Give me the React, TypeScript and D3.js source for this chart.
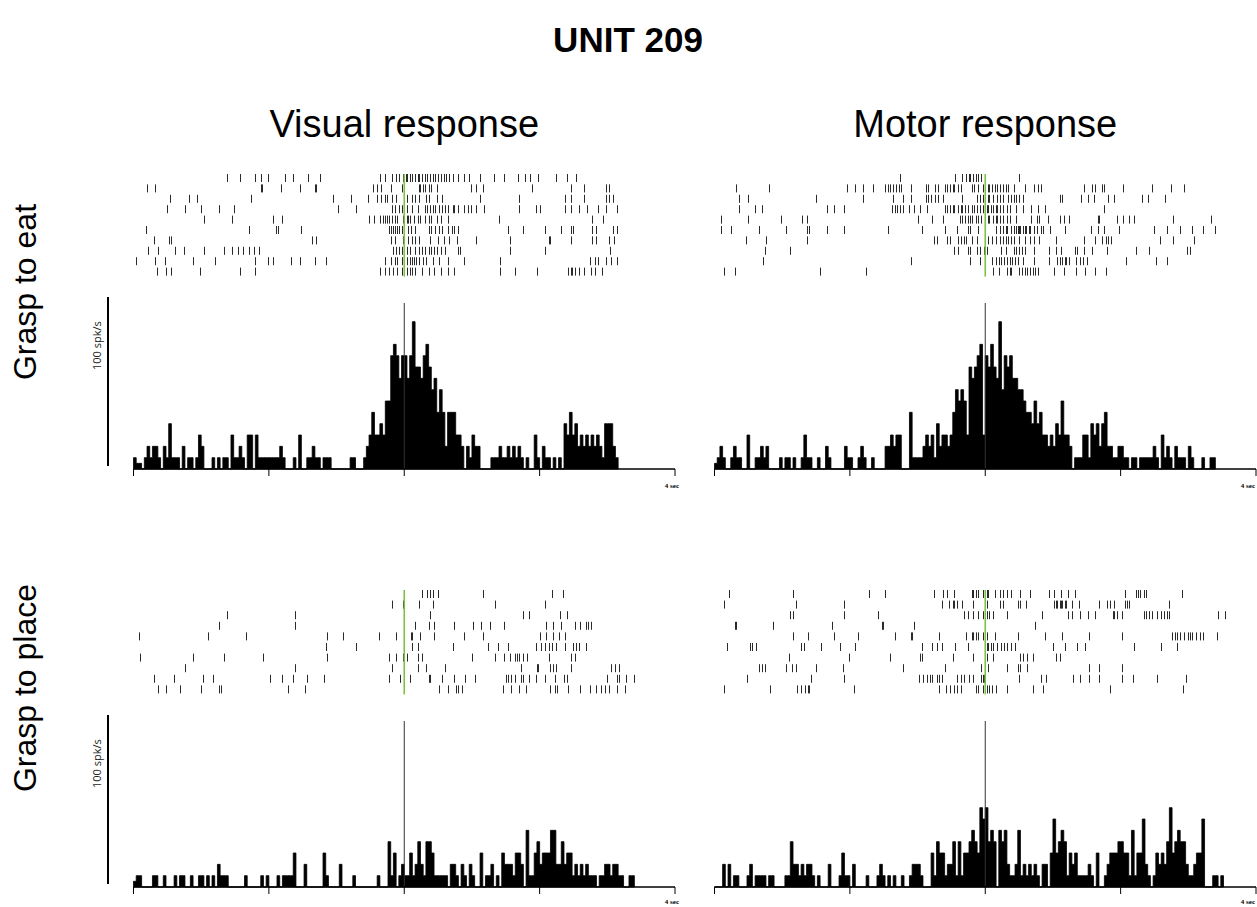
import React from "react";
import * as d3 from "d3";

// ---- data -------------------------------------------------------------
const timeTicks = [0, 1, 2, 3, 4]; // seconds, event at 2 s
const binWidth = 0.02; // s per histogram bin
const countsAt100 = 15; // bin count that equals 100 spk/s

// histogram bin counts (10 trials)
const eatVisualCounts = [
  1, 0.5, 0.5, 0, 1, 2, 1, 2, 2, 1,
  0, 2, 1, 4, 1, 1, 1, 0, 2, 0,
  1, 1, 0, 1, 3, 2, 0, 0, 0, 1,
  0, 1, 0, 1, 1, 0, 3, 1, 1, 2,
  1, 0, 3, 3, 0, 3, 1, 1, 1, 1,
  1, 1, 1, 1, 2, 1, 0, 0, 0, 1,
  0, 3, 0, 0, 1, 1, 2, 1, 1, 0,
  1, 1, 1, 0, 0, 0, 0, 0, 0, 0,
  1, 1, 0, 0, 0, 1, 2, 3, 5, 3,
  3, 4, 3, 6, 6, 10, 11, 10, 8, 10,
  10, 8, 10, 13, 9, 9, 8, 10, 11, 9,
  7, 8, 5, 7, 5, 2, 5, 5, 5, 3,
  3, 2, 0, 2, 1, 3, 2, 2, 0, 0,
  0, 0, 1, 1, 1, 2, 1, 1, 2, 1,
  2, 1, 2, 1, 0, 1, 0, 0, 3, 1,
  0, 2, 1, 1, 0, 1, 0, 1, 0, 4,
  3, 5, 3, 4, 2, 3, 2, 3, 2, 3,
  2, 3, 2, 1, 4, 4, 4, 2, 1,
];
const eatMotorCounts = [
  0.5, 1, 2, 1, 0, 0, 1, 2, 1, 1,
  0, 0, 3, 0, 0, 1, 1, 2, 1, 2,
  0, 0, 0, 0, 1, 0, 1, 1, 0, 1,
  0, 0, 1, 3, 1, 1, 0, 0, 1, 0,
  0, 2, 1, 0, 0, 0, 0, 0, 2, 1,
  1, 0, 0, 1, 2, 1, 0, 0, 1, 0,
  0, 0, 0, 2, 2, 3, 2, 3, 3, 0,
  0, 0, 5, 1, 1, 1, 1, 2, 3, 2,
  3, 1, 4, 2, 3, 3, 2, 3, 5, 7,
  6, 7, 6, 3, 9, 8, 9, 10, 11, 3,
  10, 9, 11, 9, 8, 13, 7, 10, 9, 10,
  8, 8, 7, 7, 6, 5, 5, 4, 6, 4,
  5, 3, 3, 2, 3, 2, 4, 3, 6, 3,
  3, 2, 0, 1, 1, 1, 3, 3, 1, 4,
  3, 4, 2, 4, 5, 2, 2, 1, 1, 2,
  2, 1, 1, 0, 1, 1, 0, 1, 1, 1,
  1, 1, 2, 1, 0, 3, 1, 2, 1, 0,
  2, 1, 1, 1, 0, 2, 1, 0, 0, 0,
  1, 0, 0, 1, 1,
];
const placeVisualCounts = [
  0.5, 1, 1, 0, 0, 0, 0, 1, 1, 0,
  0, 1, 0, 0, 0, 1, 0, 1, 1, 0,
  0, 1, 0, 0, 1, 1, 0, 1, 0, 1,
  0, 2, 1, 1, 1, 0, 0, 0, 0, 0,
  0, 1, 0, 0, 0, 0, 0, 1, 0, 1,
  0, 0, 0, 1, 0, 1, 1, 1, 1, 3,
  0, 0, 0, 2, 0, 0, 0, 0, 0, 0,
  3, 1, 0, 0, 0, 0, 2, 0, 0, 0,
  0, 1, 0, 0, 0, 0, 0, 0, 0, 0,
  1, 0, 0, 0, 4, 1, 3, 0, 1, 2,
  1, 1, 3, 1, 2, 4, 2, 1, 4, 4,
  3, 1, 1, 1, 1, 1, 0, 2, 2, 1,
  0, 2, 1, 0, 2, 1, 0, 0, 3, 0,
  1, 1, 2, 0, 1, 0, 3, 2, 2, 2,
  1, 3, 3, 2, 0, 5, 1, 1, 3, 4,
  2, 3, 3, 3, 5, 5, 2, 2, 4, 2,
  3, 3, 1, 2, 1, 2, 1, 2, 1, 1,
  1, 0, 1, 1, 2, 2, 1, 2, 2, 1,
  1, 0, 0, 1, 1,
];
const placeMotorCounts = [
  0, 0, 0, 2, 0, 2, 0, 1, 1, 0,
  0, 0, 1, 2, 0, 1, 1, 1, 1, 0,
  1, 1, 0, 0, 0, 0, 1, 1, 4, 2,
  2, 1, 2, 1, 2, 2, 1, 0, 1, 0,
  0, 0, 2, 0, 0, 0, 1, 3, 1, 1,
  0, 2, 0, 0, 0, 0, 1, 0, 0, 0,
  1, 2, 1, 0, 1, 0, 1, 0, 0, 1,
  0, 0, 1, 2, 2, 2, 1, 0, 0, 0,
  3, 1, 4, 3, 3, 1, 2, 2, 4, 1,
  4, 1, 3, 3, 4, 5, 4, 3, 7, 6,
  7, 4, 5, 4, 0, 5, 4, 5, 2, 1,
  1, 2, 5, 1, 2, 1, 2, 1, 2, 1,
  0, 2, 2, 0, 3, 6, 3, 4, 5, 4,
  1, 3, 2, 3, 1, 1, 1, 1, 2, 1,
  0, 3, 0, 0, 1, 2, 3, 3, 3, 4,
  4, 3, 3, 1, 5, 1, 3, 3, 6, 2,
  1, 0, 1, 3, 2, 3, 2, 4, 7, 3,
  4, 5, 4, 4, 2, 1, 1, 2, 3, 3,
  6, 0, 0, 0, 1, 1, 0, 1,
];

// raster spike times (s), one list per trial
const eatVisualSpikes = [
  [0.69, 0.79, 0.9, 0.94, 0.99, 1.12, 1.18, 1.29, 1.38, 1.82, 1.86, 1.91, 1.94, 1.96, 1.99, 2.01, 2.02, 2.04, 2.06, 2.08, 2.1, 2.11, 2.13, 2.15, 2.17, 2.19, 2.21, 2.23, 2.25, 2.27, 2.29, 2.31, 2.33, 2.36, 2.4, 2.44, 2.48, 2.56, 2.66, 2.74, 2.84, 2.89, 2.93, 2.99, 3.12, 3.2, 3.27],
  [0.1, 0.16, 0.94, 0.95, 1.09, 1.23, 1.34, 1.35, 1.77, 1.8, 1.83, 1.9, 1.98, 2.0, 2.11, 2.12, 2.14, 2.15, 2.18, 2.2, 2.24, 2.49, 2.53, 2.58, 2.94, 3.23, 3.33, 3.49, 3.51],
  [0.27, 0.41, 0.47, 0.87, 1.47, 1.61, 1.73, 1.8, 1.83, 1.86, 1.87, 1.91, 1.94, 2.0, 2.02, 2.06, 2.08, 2.11, 2.16, 2.18, 2.24, 2.28, 2.56, 2.85, 3.19, 3.23, 3.33, 3.49, 3.51, 3.54],
  [0.25, 0.38, 0.5, 0.63, 0.74, 1.51, 1.64, 1.91, 1.93, 1.96, 1.98, 2.02, 2.06, 2.1, 2.15, 2.17, 2.19, 2.21, 2.23, 2.26, 2.28, 2.3, 2.32, 2.36, 2.37, 2.4, 2.44, 2.47, 2.49, 2.53, 2.59, 2.85, 2.97, 3.0, 3.19, 3.23, 3.29, 3.35, 3.43, 3.49, 3.57],
  [0.52, 0.73, 1.03, 1.1, 1.74, 1.78, 1.82, 1.84, 1.86, 1.87, 1.89, 1.91, 1.93, 1.95, 1.99, 2.0, 2.02, 2.03, 2.04, 2.07, 2.1, 2.12, 2.15, 2.18, 2.2, 2.24, 2.27, 2.32, 2.7, 3.39, 3.47],
  [0.09, 0.85, 1.05, 1.07, 1.24, 1.89, 1.9, 1.92, 1.93, 1.95, 1.96, 1.98, 2.0, 2.03, 2.05, 2.08, 2.18, 2.2, 2.23, 2.26, 2.28, 2.32, 2.35, 2.37, 2.4, 2.77, 2.88, 3.04, 3.16, 3.23, 3.25, 3.39, 3.42, 3.54, 3.57],
  [0.15, 0.26, 0.28, 1.32, 1.35, 1.9, 1.93, 1.99, 2.0, 2.03, 2.06, 2.08, 2.11, 2.19, 2.25, 2.29, 2.33, 2.39, 2.53, 2.78, 3.07, 3.08, 3.23, 3.39, 3.42, 3.51, 3.55],
  [0.11, 0.18, 0.31, 0.37, 0.52, 0.67, 0.73, 0.77, 0.81, 0.85, 0.89, 0.93, 1.92, 1.94, 1.96, 1.98, 2.0, 2.02, 2.04, 2.08, 2.11, 2.13, 2.15, 2.18, 2.2, 2.22, 2.24, 2.27, 2.3, 2.4, 2.41, 2.78, 3.04, 3.52],
  [0.02, 0.16, 0.23, 0.44, 0.6, 0.9, 0.99, 1.03, 1.16, 1.23, 1.34, 1.42, 1.86, 1.9, 1.93, 1.95, 1.98, 2.0, 2.02, 2.04, 2.06, 2.07, 2.09, 2.11, 2.14, 2.16, 2.21, 2.26, 2.32, 2.44, 2.71, 3.37, 3.41, 3.43, 3.49, 3.53, 3.57],
  [0.17, 0.24, 0.28, 0.49, 0.79, 0.9, 1.82, 1.86, 1.89, 1.92, 1.95, 1.98, 2.0, 2.02, 2.04, 2.06, 2.08, 2.13, 2.18, 2.22, 2.27, 2.32, 2.37, 2.71, 2.82, 2.98, 3.21, 3.23, 3.24, 3.26, 3.29, 3.33, 3.38, 3.41, 3.46],
];
const eatMotorSpikes = [
  [1.37, 1.78, 1.83, 1.86, 1.88, 1.89, 1.91, 1.93, 1.95, 1.97, 2.25],
  [0.16, 0.4, 0.98, 1.04, 1.1, 1.17, 1.26, 1.28, 1.3, 1.32, 1.34, 1.36, 1.38, 1.45, 1.56, 1.58, 1.63, 1.65, 1.7, 1.72, 1.74, 1.76, 1.77, 1.8, 1.82, 1.9, 1.92, 1.95, 1.98, 2.0, 2.02, 2.03, 2.05, 2.07, 2.09, 2.11, 2.13, 2.15, 2.17, 2.21, 2.29, 2.36, 2.39, 2.41, 2.73, 2.79, 2.81, 2.86, 2.88, 3.02, 3.23, 3.37, 3.47],
  [0.18, 0.25, 0.75, 1.1, 1.32, 1.39, 1.45, 1.56, 1.58, 1.6, 1.63, 1.65, 1.69, 1.83, 1.94, 1.96, 1.98, 2.0, 2.02, 2.03, 2.06, 2.09, 2.11, 2.13, 2.17, 2.19, 2.21, 2.23, 2.25, 2.28, 2.555, 2.565, 2.71, 2.76, 2.8, 2.91, 2.95, 3.16, 3.2, 3.33],
  [0.18, 0.3, 0.35, 0.83, 0.88, 0.96, 1.31, 1.33, 1.35, 1.37, 1.39, 1.44, 1.47, 1.52, 1.57, 1.7, 1.72, 1.74, 1.76, 1.77, 1.8, 1.82, 1.83, 1.85, 1.87, 1.9, 1.92, 1.94, 1.96, 1.98, 2.0, 2.01, 2.02, 2.04, 2.06, 2.08, 2.09, 2.11, 2.13, 2.16, 2.18, 2.23, 2.28, 2.34, 2.39, 2.44, 2.88],
  [0.05, 0.25, 0.49, 0.65, 0.68, 1.5, 1.61, 1.69, 1.81, 1.83, 1.85, 1.87, 1.89, 1.9, 1.93, 1.95, 1.97, 2.02, 2.03, 2.06, 2.08, 2.09, 2.11, 2.13, 2.16, 2.18, 2.23, 2.34, 2.38, 2.4, 2.46, 2.55, 2.58, 2.62, 2.83, 2.84, 2.97, 3.02, 3.06, 3.1, 3.39, 3.67],
  [0.05, 0.12, 0.33, 0.53, 0.68, 0.7, 0.83, 0.96, 1.28, 1.53, 1.7, 1.79, 1.87, 1.89, 1.95, 2.0, 2.08, 2.11, 2.13, 2.15, 2.16, 2.19, 2.21, 2.23, 2.24, 2.25, 2.26, 2.28, 2.29, 2.3, 2.32, 2.33, 2.36, 2.38, 2.41, 2.43, 2.48, 2.59, 2.78, 2.83, 2.88, 2.99, 3.25, 3.34, 3.44, 3.53, 3.61, 3.7],
  [0.23, 0.38, 0.68, 1.62, 1.64, 1.72, 1.74, 1.8, 1.82, 1.84, 1.86, 1.9, 1.94, 2.0, 2.02, 2.05, 2.08, 2.11, 2.13, 2.15, 2.17, 2.19, 2.21, 2.25, 2.29, 2.33, 2.36, 2.4, 2.52, 2.73, 2.81, 2.86, 2.89, 2.91, 2.93, 3.29, 3.39, 3.54],
  [0.37, 0.56, 1.77, 1.8, 1.87, 1.89, 1.94, 1.96, 1.99, 2.01, 2.12, 2.15, 2.21, 2.23, 2.25, 2.27, 2.29, 2.36, 2.47, 2.52, 2.56, 2.66, 2.68, 2.73, 2.79, 2.9, 3.11, 3.21, 3.49, 3.51],
  [0.36, 1.45, 1.89, 1.96, 2.05, 2.08, 2.1, 2.12, 2.14, 2.16, 2.18, 2.2, 2.22, 2.24, 2.28, 2.36, 2.47, 2.53, 2.55, 2.57, 2.59, 2.6, 2.62, 2.67, 2.7, 2.72, 2.75, 3.04, 3.26, 3.34],
  [0.07, 0.15, 0.78, 1.12, 2.06, 2.1, 2.16, 2.18, 2.19, 2.25, 2.27, 2.29, 2.31, 2.33, 2.35, 2.37, 2.39, 2.51, 2.58, 2.67, 2.74, 2.81, 2.89],
];
const placeVisualSpikes = [
  [2.13, 2.17, 2.19, 2.21, 2.25, 2.58, 3.09, 3.17],
  [1.91, 1.99, 2.11, 2.21, 2.67, 3.04],
  [0.69, 1.19, 2.19, 2.88, 2.92, 3.15, 3.2],
  [0.63, 1.19, 2.08, 2.18, 2.22, 2.37, 2.51, 2.57, 2.63, 2.74, 3.05, 3.1, 3.16, 3.26, 3.3, 3.34, 3.36, 3.38],
  [0.04, 0.55, 0.83, 1.43, 1.55, 1.81, 1.94, 2.05, 2.06, 2.12, 2.22, 2.44, 2.58, 3.0, 3.05, 3.1, 3.14, 3.19],
  [1.42, 1.64, 2.06, 2.1, 2.36, 2.62, 2.69, 2.77, 2.97, 3.01, 3.04, 3.07, 3.09, 3.12, 3.19, 3.25, 3.27, 3.29, 3.34],
  [0.05, 0.44, 0.67, 0.96, 1.43, 1.89, 1.94, 1.99, 2.02, 2.1, 2.13, 2.5, 2.67, 2.74, 2.78, 2.82, 2.83, 2.85, 2.88, 2.91, 3.07, 3.23, 3.26],
  [0.38, 1.19, 1.91, 2.1, 2.16, 2.3, 2.86, 2.98, 2.99, 3.08, 3.1, 3.12, 3.23, 3.53, 3.56, 3.59],
  [0.15, 0.3, 0.51, 0.59, 1.01, 1.1, 1.18, 1.28, 1.41, 1.89, 1.97, 2.04, 2.18, 2.19, 2.28, 2.37, 2.45, 2.52, 2.75, 2.77, 2.79, 2.82, 2.86, 2.88, 2.92, 2.97, 3.04, 3.11, 3.18, 3.2, 3.5, 3.57, 3.59, 3.64, 3.7],
  [0.18, 0.24, 0.34, 0.5, 0.63, 0.65, 1.14, 1.27, 2.26, 2.32, 2.38, 2.4, 2.43, 2.73, 2.79, 2.85, 2.9, 3.08, 3.11, 3.13, 3.21, 3.3, 3.37, 3.42, 3.45, 3.48, 3.51, 3.57, 3.63],
];
const placeMotorSpikes = [
  [0.11, 0.58, 1.14, 1.26, 1.62, 1.69, 1.72, 1.77, 1.9, 1.91, 1.93, 1.95, 1.98, 2.01, 2.02, 2.07, 2.11, 2.13, 2.16, 2.19, 2.26, 2.33, 2.47, 2.51, 2.56, 2.61, 2.66, 3.03, 3.11, 3.13, 3.14, 3.17, 3.19, 3.45],
  [0.07, 0.6, 0.96, 1.68, 1.73, 1.76, 1.77, 1.79, 1.83, 1.91, 2.01, 2.11, 2.13, 2.24, 2.26, 2.3, 2.51, 2.52, 2.53, 2.55, 2.56, 2.57, 2.59, 2.6, 2.64, 2.69, 2.84, 2.9, 2.92, 2.95, 3.03, 3.05, 3.06, 3.36],
  [0.56, 0.58, 0.96, 1.21, 1.84, 1.87, 1.91, 1.95, 1.98, 2.01, 2.03, 2.06, 2.16, 2.42, 2.61, 2.64, 2.7, 2.76, 2.81, 2.94, 2.95, 2.97, 3.01, 3.17, 3.19, 3.21, 3.23, 3.27, 3.3, 3.32, 3.34, 3.36, 3.72, 3.77],
  [0.15, 0.16, 0.43, 0.87, 1.235, 1.245, 1.47, 2.37],
  [0.58, 0.69, 0.88, 1.06, 1.33, 1.45, 1.46, 1.66, 1.86, 1.9, 1.91, 1.93, 1.95, 1.98, 2.01, 2.07, 2.24, 2.44, 2.57, 2.77, 3.01, 3.38, 3.4, 3.42, 3.44, 3.47, 3.5, 3.51, 3.53, 3.56, 3.59, 3.61, 3.71],
  [0.09, 0.26, 0.28, 0.31, 0.64, 0.66, 0.79, 0.93, 1.04, 1.53, 1.61, 1.64, 1.68, 1.78, 1.87, 2.01, 2.02, 2.04, 2.06, 2.09, 2.12, 2.14, 2.16, 2.19, 2.22, 2.5, 2.59, 2.68, 2.74, 3.1, 3.3, 3.42],
  [0.55, 0.99, 1.3, 1.52, 1.53, 1.76, 1.91, 2.0, 2.01, 2.06, 2.26, 2.28, 2.31, 2.35, 2.52, 2.55],
  [0.33, 0.35, 0.37, 0.53, 0.57, 0.6, 0.75, 0.95, 1.39, 1.7, 1.97, 2.02, 2.16, 2.24, 2.26, 2.31, 2.77, 2.84, 3.01],
  [0.24, 0.71, 0.96, 1.51, 1.54, 1.57, 1.59, 1.61, 1.64, 1.66, 1.68, 1.79, 1.82, 1.84, 1.88, 1.91, 1.97, 1.98, 1.99, 2.25, 2.41, 2.45, 2.65, 2.7, 2.77, 2.84, 3.01, 3.09, 3.27, 3.48],
  [0.07, 0.41, 0.61, 0.64, 0.67, 0.69, 0.7, 1.03, 1.66, 1.71, 1.74, 1.77, 1.79, 1.82, 1.93, 1.95, 1.98, 2.01, 2.03, 2.05, 2.08, 2.16, 2.35, 2.43, 2.92, 3.46],
];

// ---- layout -------------------------------------------------------------
const W = 1257;
const H = 907;
const columns = [
  { x0: 133.5, x1: 675 },
  { x0: 714.5, x1: 1256 },
];
const rows = [
  { rasterTop: 178, rowStep: 10.4, base: 469, labelDy: 19 },
  { rasterTop: 594, rowStep: 10.6, base: 887, labelDy: 17 },
];
const histHeight = 170;
const green = "#7dc242";

type PanelProps = {
  counts: number[];
  spikes: number[][];
  col: { x0: number; x1: number };
  row: { rasterTop: number; rowStep: number; base: number; labelDy: number };
};

function Panel({ counts, spikes, col, row }: PanelProps) {
  const x = d3.scaleLinear().domain([0, 4]).range([col.x0, col.x1]);
  const y = d3
    .scaleLinear()
    .domain([0, countsAt100])
    .range([row.base, row.base - histHeight]);

  const pts: [number, number][] = counts.map((c, i) => [i * binWidth, c]);
  pts.push([counts.length * binWidth, 0]);
  const area = d3
    .area<[number, number]>()
    .curve(d3.curveStepAfter)
    .x((d) => x(d[0]))
    .y0(y(0))
    .y1((d) => y(d[1]));

  const xc = x(2);
  const lastRowY = row.rasterTop + (spikes.length - 1) * row.rowStep;

  return (
    <g>
      {/* raster */}
      {spikes.map((trial, ti) => {
        const ry = row.rasterTop + ti * row.rowStep;
        return trial.map((t, si) => {
          const sx = Math.round(x(t)) + 0.5;
          return (
            <line
              key={`${ti}-${si}`}
              x1={sx}
              x2={sx}
              y1={ry - 4}
              y2={ry + 4}
              stroke="#2a2a2a"
              strokeWidth={1}
            />
          );
        });
      })}
      <line
        x1={xc}
        x2={xc}
        y1={row.rasterTop - 4}
        y2={lastRowY + 5}
        stroke={green}
        strokeWidth={1.6}
      />

      {/* histogram */}
      <path d={area(pts) ?? ""} fill="#000" stroke="#000" strokeWidth={0.8} />
      <line
        x1={xc}
        x2={xc}
        y1={row.base}
        y2={row.base - 166}
        stroke="#333"
        strokeWidth={1}
      />

      {/* time axis */}
      <line x1={col.x0} x2={col.x1} y1={row.base} y2={row.base} stroke="#000" strokeWidth={1.6} />
      {timeTicks.map((t) => (
        <line
          key={t}
          x1={x(t)}
          x2={x(t)}
          y1={row.base}
          y2={row.base + 7}
          stroke="#000"
          strokeWidth={1}
        />
      ))}
      <text
        x={Math.min(col.x1 + 4, W - 2)}
        y={row.base + row.labelDy}
        textAnchor="end"
        fontFamily="Liberation Serif"
        fontWeight="bold"
        fontSize={7}
      >
        4 sec
      </text>
    </g>
  );
}

const panels = [
  { counts: eatVisualCounts, spikes: eatVisualSpikes, c: 0, r: 0 },
  { counts: eatMotorCounts, spikes: eatMotorSpikes, c: 1, r: 0 },
  { counts: placeVisualCounts, spikes: placeVisualSpikes, c: 0, r: 1 },
  { counts: placeMotorCounts, spikes: placeMotorSpikes, c: 1, r: 1 },
];
const columnTitles = ["Visual response", "Motor response"];
const rowTitles = ["Grasp to eat", "Grasp to place"];

export default function App() {
  const sans = "Liberation Sans, Arial, sans-serif";
  return (
    <div style={{ position: "absolute", left: 0, top: 0 }}>
      <svg width={W} height={H} style={{ display: "block", background: "#fff" }}>
        <text x={628} y={52} textAnchor="middle" fontFamily={sans} fontWeight="bold" fontSize={35}>
          UNIT 209
        </text>
        {columnTitles.map((t, i) => (
          <text
            key={t}
            x={(columns[i].x0 + columns[i].x1) / 2}
            y={137}
            textAnchor="middle"
            fontFamily={sans}
            fontSize={38}
          >
            {t}
          </text>
        ))}
        {rowTitles.map((t, i) => {
          const cy = i === 0 ? 292 : 688;
          return (
            <text
              key={t}
              transform={`translate(36,${cy}) rotate(-90)`}
              textAnchor="middle"
              fontFamily={sans}
              fontSize={32}
            >
              {t}
            </text>
          );
        })}
        {rows.map((r, i) => (
          <g key={i}>
            <line
              x1={108}
              x2={108}
              y1={r.base - 172}
              y2={r.base - 3}
              stroke="#000"
              strokeWidth={2}
            />
            <text
              transform={`translate(101,${r.base - 99}) rotate(-90)`}
              fontFamily="Open Sans, DejaVu Sans, sans-serif"
              fontSize={11}
              fill="#222"
            >
              100 spk/s
            </text>
          </g>
        ))}
        {panels.map((p, i) => (
          <Panel key={i} counts={p.counts} spikes={p.spikes} col={columns[p.c]} row={rows[p.r]} />
        ))}
      </svg>
    </div>
  );
}
